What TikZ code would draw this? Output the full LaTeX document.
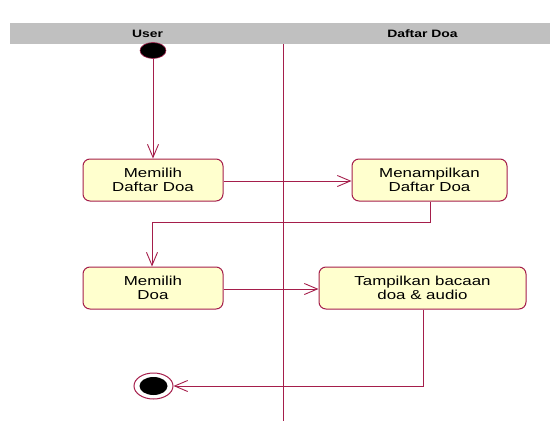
\documentclass[tikz,border=0pt]{standalone}
\usepackage{fontspec}
\setmainfont{Liberation Sans}
\newfontfamily\widesans[FakeStretch=1.3]{Liberation Sans}
\usetikzlibrary{arrows.meta,shapes.geometric}
\definecolor{umlline}{RGB}{165,30,75}
\definecolor{actfill}{RGB}{255,255,206}
\definecolor{lanegray}{RGB}{192,192,192}
\tikzset{
  flow/.style={draw=umlline, line width=0.9pt, -{Straight Barb[length=13pt,width=11pt,line width=0.9pt]}},
  activity/.style={draw=umlline, fill=actfill, line width=1pt, rounded corners=7pt,
    minimum width=140pt, minimum height=42pt, align=center, inner sep=0pt,
    font=\widesans\fontsize{13}{14.5}\selectfont},
  lanehead/.style={font=\widesans\fontsize{10.7}{12}\selectfont\bfseries}
}
\begin{document}
\begin{tikzpicture}[x=1pt,y=-1pt]
  \useasboundingbox (0,0) rectangle (550,421);
  % swimlane header and divider
  \fill[lanegray] (10,23) rectangle (550,44);
  \node[lanehead] (laneUser) at (147.5,33.5) {User};
  \node[lanehead] (laneDoa) at (422.5,33.5) {Daftar Doa};
  \draw[umlline, line width=0.9pt] (283,44) -- (283,421);

  % start and end states
  \node[ellipse, fill=black, draw=umlline, line width=0.6pt, minimum width=26pt, minimum height=16pt, inner sep=0pt] (start) at (153,50.5) {};
  \node[ellipse, draw=umlline, fill=white, line width=1pt, minimum width=39pt, minimum height=26pt, inner sep=0pt] (end) at (153.5,386) {};
  \node[ellipse, fill=black, minimum width=28pt, minimum height=18pt, inner sep=0pt] (endcore) at (153.5,386) {};

  % activities
  \node[activity] (a1) at (153,180) {Memilih\\Daftar Doa};
  \node[activity, minimum width=155pt] (a2) at (429.5,180) {Menampilkan\\Daftar Doa};
  \node[activity] (a3) at (153,288) {Memilih\\Doa};
  \node[activity, minimum width=207pt] (a4) at (422.5,288) {Tampilkan bacaan\\doa \& audio};

  % control flow
  \draw[flow] (start) -- (a1.north -| start);
  \draw[flow] (a1.east |- 0,181) -- (a2.west |- 0,181);
  \draw[flow] (a2.south -| 430,0) |- (152,222) -- (a3.north -| 152,0);
  \draw[flow] (a3.east |- 0,289) -- (a4.west |- 0,289);
  \draw[flow] (a4.south -| 423,0) |- (end.east);
\end{tikzpicture}
\end{document}
